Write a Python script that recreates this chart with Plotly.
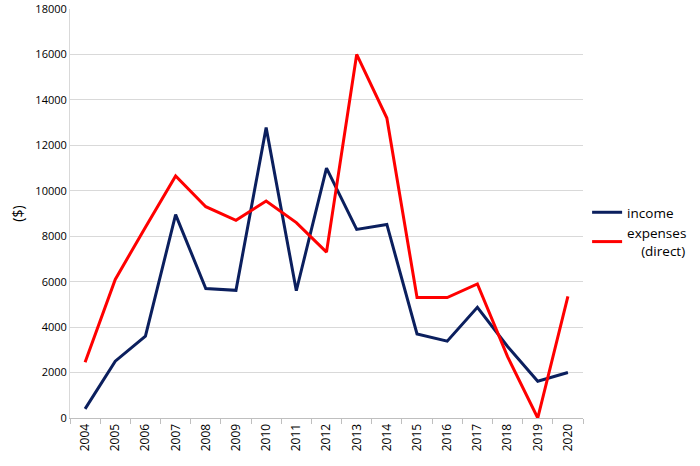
import plotly.graph_objects as go

years = [str(y) for y in range(2004, 2021)]
income = [400, 2500, 3600, 8950, 5700, 5620, 12780, 5600, 11000, 8300, 8520,
          3700, 3380, 4870, 3150, 1620, 2000]
expenses = [2450, 6100, 8400, 10650, 9300, 8700, 9550, 8600, 7300, 16000, 13200,
            5300, 5300, 5900, 2700, 0, 5350]

fig = go.Figure()
fig.add_trace(go.Scatter(x=years, y=income, mode='lines', name='income',
                         line=dict(color='#0b1f5e', width=3)))
fig.add_trace(go.Scatter(x=years, y=expenses, mode='lines',
                         name='expenses<br>\u00a0\u00a0\u00a0\u00a0(direct)',
                         line=dict(color='#ff0000', width=3)))

fig.update_layout(
    width=700, height=466,
    margin=dict(l=70, r=117, t=9, b=48, autoexpand=False),
    plot_bgcolor='white', paper_bgcolor='white',
    font=dict(family='Open Sans, Liberation Sans, sans-serif', color='#000000', size=11),
    legend=dict(x=1.008, y=0.456, yanchor='middle',
                font=dict(size=13.5), tracegroupgap=0, itemwidth=30),
)
fig.update_xaxes(type='category', range=[-0.5, 16.5], tickson='boundaries',
                 ticks='outside', ticklen=5, tickcolor='#bfbfbf', tickangle=-90,
                 showline=True, linecolor='#bfbfbf', showgrid=False,
                 tickfont=dict(size=12), automargin=False)
fig.update_yaxes(range=[0, 18000], dtick=2000, tickformat='d', showgrid=True,
                 gridcolor='#d9d9d9', showline=True, linecolor='#d9d9d9',
                 zeroline=False, ticks='', title=dict(text='($)', font=dict(size=14), standoff=8),
                 tickfont=dict(size=11), automargin=False)

# page body has a default margin; drop it so the chart fills the window
fig.write_html('out.html', config={'displayModeBar': False},
               post_script="document.body.style.margin='0';")
